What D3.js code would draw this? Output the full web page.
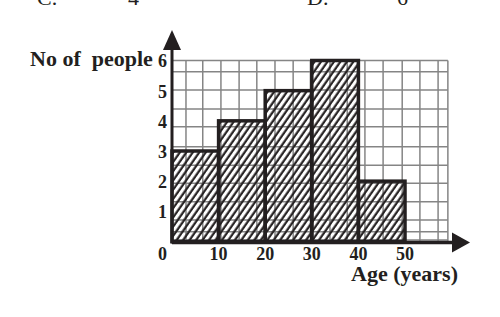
<!DOCTYPE html>
<html>
<head>
<meta charset="utf-8">
<script src="https://cdn.jsdelivr.net/npm/d3@7"></script>
<style>
  body { margin: 0; background: #fff; }
  svg text { font-family: "Liberation Serif", "Times New Roman", serif; }
</style>
</head>
<body>
<svg class="histogramme"></svg>
<script>

// Classes d'âge (années) et effectifs
const classes = [[0, 10], [10, 20], [20, 30], [30, 40], [40, 50]];
const effectifs = [3, 4, 5, 6, 2];

// Graduations
const xTicks = [0, 10, 20, 30, 40, 50];
const yTicks = [1, 2, 3, 4, 5, 6];

// Quadrillage (papier millimétré scanné, pas tout à fait régulier)
const xGrid = [3.0, 6.6, 10.5, 14.4, 18.2, 22.1, 26.0, 29.7, 33.9, 37.6, 41.4, 45.3, 49.4, 53.2, 57.1, 59.2];
const yGrid = [0.05, 0.32, 0.71, 1.32, 1.93, 2.53, 3.14, 3.80, 4.39, 5.02, 5.63, 6];

// Textes
const titreY = "No of  people";
const titreX = "Age (years)";
const reponses = [["C.", 37], ["4", 128], ["D.", 307], ["6", 397]];

const w = 500, h = 317;
const encre = "#231f20";

let svg = d3.select(".histogramme")
    .attr("width", w)
    .attr("height", h)
    .attr("viewBox", `0,0,${w},${h}`);

// Echelles
let x = d3.scaleLinear().domain([0, 50]).range([172, 405]);
let y = d3.scaleLinear().domain([0, 6]).range([241.5, 60.5]);

// Motif hachuré
svg.append("defs")
  .append("pattern")
    .attr("id", "hachures")
    .attr("patternUnits", "userSpaceOnUse")
    .attr("width", 5.3)
    .attr("height", 10)
    .attr("patternTransform", "rotate(35)")
  .append("line")
    .attr("x1", 1.5).attr("y1", 0)
    .attr("x2", 1.5).attr("y2", 10)
    .style("stroke", encre)
    .style("stroke-width", 2.2);

// Restes de la question au-dessus (coupés comme sur l'original)
svg.selectAll("text.reponse")
  .data(reponses)
  .enter()
  .append("text")
    .attr("class", "reponse")
    .attr("x", d => d[1])
    .attr("y", 5)
    .style("font-size", "22px")
    .style("fill", encre)
    .text(d => d[0]);

// Quadrillage
let grille = svg.append("g");
grille.selectAll("line.v")
  .data(xGrid)
  .enter()
  .append("line")
    .attr("x1", d => x(d)).attr("x2", d => x(d))
    .attr("y1", y(0)).attr("y2", y(6))
    .style("stroke", "#858585")
    .style("stroke-width", 1.5);

grille.selectAll("line.h")
  .data(yGrid)
  .enter()
  .append("line")
    .attr("x1", x(0)).attr("x2", x(59.2))
    .attr("y1", d => y(d)).attr("y2", d => y(d))
    .style("stroke", "#858585")
    .style("stroke-width", 1.5);

// Barres (histogramme)
svg.append("g")
  .selectAll("rect")
  .data(classes)
  .enter()
  .append("rect")
    .attr("x", d => x(d[0]))
    .attr("y", (d, i) => y(effectifs[i]))
    .attr("width", d => x(d[1]) - x(d[0]))
    .attr("height", (d, i) => y(0) - y(effectifs[i]))
    .style("fill", "url(#hachures)")
    .style("stroke", encre)
    .style("stroke-width", 3.5);

// Axes avec flèches
svg.append("line")
    .attr("x1", x(0)).attr("y1", y(0) + 1)
    .attr("x2", 455).attr("y2", y(0) + 1)
    .style("stroke", encre)
    .style("stroke-width", 3.5);
svg.append("path")
    .attr("d", `M470,${y(0) + 1}L452,${y(0) - 9}L452,${y(0) + 11}Z`)
    .style("fill", encre);

svg.append("line")
    .attr("x1", x(0)).attr("y1", y(0) + 2)
    .attr("x2", x(0)).attr("y2", 46)
    .style("stroke", encre)
    .style("stroke-width", 3);
svg.append("path")
    .attr("d", `M${x(0)},30L${x(0) - 9},50L${x(0) + 9},50Z`)
    .style("fill", encre);

// Etiquettes de l'axe des x
svg.selectAll("text.xtick")
  .data(xTicks)
  .enter()
  .append("text")
    .attr("class", "xtick")
    .attr("x", d => d === 0 ? x(0) - 9.5 : x(d))
    .attr("y", 260)
    .attr("text-anchor", "middle")
    .style("font-size", "18px")
    .style("font-weight", "bold")
    .style("fill", encre)
    .text(d => d);

// Etiquettes de l'axe des y
svg.selectAll("text.ytick")
  .data(yTicks)
  .enter()
  .append("text")
    .attr("class", "ytick")
    .attr("x", 167)
    .attr("y", d => y(d))
    .attr("dy", "0.38em")
    .attr("text-anchor", "end")
    .style("font-size", "18px")
    .style("font-weight", "bold")
    .style("fill", encre)
    .text(d => d);

// Titres des axes
svg.append("text")
    .attr("x", 30)
    .attr("y", 66)
    .attr("xml:space", "preserve")
    .style("white-space", "pre")
    .style("font-size", "22px")
    .style("font-weight", "bold")
    .style("fill", encre)
    .text(titreY);

svg.append("text")
    .attr("x", 458)
    .attr("y", 281)
    .attr("text-anchor", "end")
    .style("font-size", "22px")
    .style("font-weight", "bold")
    .style("fill", encre)
    .text(titreX);

</script>
</body>
</html>
